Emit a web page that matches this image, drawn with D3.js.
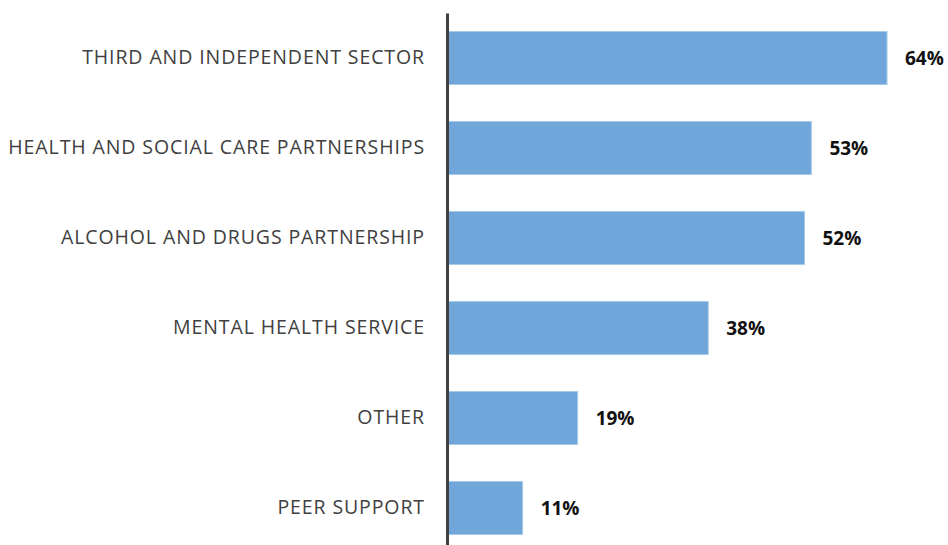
<!DOCTYPE html>
<html><head><meta charset="utf-8">
<script src="https://cdn.jsdelivr.net/npm/d3@7"></script>
<style>body{margin:0;background:#fff}svg{display:block}</style>
</head><body>
<svg id="chart" width="948" height="545"></svg>
<script>
const categories = ["THIRD AND INDEPENDENT SECTOR","HEALTH AND SOCIAL CARE PARTNERSHIPS","ALCOHOL AND DRUGS PARTNERSHIP","MENTAL HEALTH SERVICE","OTHER","PEER SUPPORT"];
const values = [64, 53, 52, 38, 19, 11];

const svg = d3.select("#chart");
const x = d3.scaleLinear().domain([0, 64]).range([447, 887]);
const y = d3.scaleBand().domain(categories).range([13, 553]).paddingInner(0.41).paddingOuter(0.205);

svg.selectAll("rect.bar").data(categories).join("rect")
  .attr("class","bar")
  .attr("x", x(0))
  .attr("y", d => y(d))
  .attr("width", (d,i) => x(values[i]) - x(0))
  .attr("height", y.bandwidth())
  .attr("fill", "#70a6d9")
  .attr("stroke", "#a9cbea")
  .attr("stroke-width", 1);

const ax = svg.append("g").attr("transform", `translate(${x(0)},0)`)
  .call(d3.axisLeft(y).tickSize(0).tickPadding(22));
ax.select(".domain").attr("stroke", "#404040").attr("stroke-width", 3);
ax.selectAll("text").attr("fill", "#404040")
  .style("font-family", "'Open Sans', sans-serif")
  .style("font-size", "19.5px")
  .style("letter-spacing", "0.9px");

svg.selectAll("text.val").data(categories).join("text")
  .attr("class","val")
  .attr("x", (d,i) => x(values[i]) + 18)
  .attr("y", d => y(d) + y.bandwidth()/2)
  .attr("dy", "0.35em")
  .attr("fill", "#111")
  .style("font-family", "'Open Sans', sans-serif")
  .style("font-weight", "bold")
  .style("font-size", "19px")
  .text((d,i) => values[i] + "%");
</script>
</body></html>
